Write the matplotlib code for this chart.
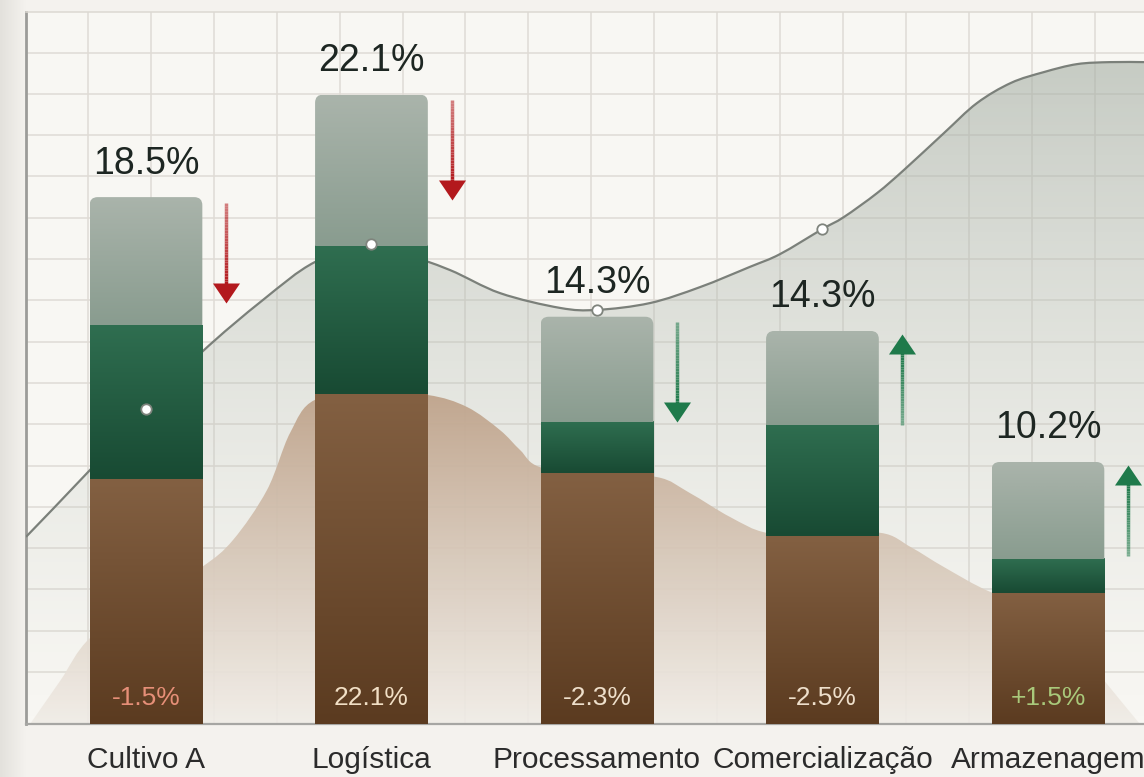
import numpy as np
import matplotlib
matplotlib.use('Agg')
import matplotlib.pyplot as plt
from matplotlib.patches import PathPatch, FancyBboxPatch
from matplotlib.path import Path
from matplotlib.collections import LineCollection
from matplotlib.colors import to_rgb

plt.rcParams['font.family'] = ['Liberation Sans', 'DejaVu Sans']

# --- data ---
categories = ["Cultivo A", "Logística", "Processamento", "Comercialização", "Armazenagem"]
base_vals = [8.6, 11.6, 8.8, 6.6, 4.6]      # brown segment
mid_vals = [5.4, 5.2, 1.8, 3.9, 1.2]        # dark green segment
top_vals = [4.5, 5.3, 3.7, 3.3, 3.4]        # grey-green segment
total_labels = ["18.5%", "22.1%", "14.3%", "14.3%", "10.2%"]
change_labels = ["-1.5%", "22.1%", "-2.3%", "-2.5%", "+1.5%"]
change_colors = ["#e68f78", "#f1dfc5", "#eedfcb", "#eedfcb", "#a9c97b"]
arrow_dirs = [-1, -1, -1, 1, 1]
arrow_colors = ["#b3191d", "#b3191d", "#1f7a4b", "#1f7a4b", "#1f7a4b"]

# grey trend line
line_x = [-0.532, -0.248, 0.0, 0.248, 0.519, 0.749, 0.998, 1.126, 1.348, 1.570,
          1.836, 2.0, 2.235, 2.457, 2.678, 2.812, 3.0, 3.095, 3.242, 3.361,
          3.539, 3.685, 3.836, 3.982, 4.129, 4.275, 4.426]
line_y = [6.57, 8.92, 11.06, 13.06, 14.89, 16.22, 16.85, 16.57, 15.94, 15.13,
          14.61, 14.54, 14.78, 15.34, 16.05, 16.50, 17.38, 17.80, 18.64, 19.45,
          20.75, 21.80, 22.51, 22.89, 23.17, 23.24, 23.24]
marker_x = [0, 1, 2, 3]
marker_y = [11.06, 16.85, 14.54, 17.38]

# beige background area
area_x = [-0.514, -0.381, -0.248, 0.0, 0.248, 0.386, 0.537, 0.639, 0.749,
          1.0, 1.251, 1.424, 1.570, 1.659, 1.747, 2.0, 2.266, 2.412, 2.590,
          2.754, 3.0, 3.259, 3.392, 3.539, 3.747, 4.0, 4.248, 4.408]
area_y = [0.0, 1.51, 3.02, 4.3, 5.51, 6.46, 8.22, 10.22, 11.38,
          11.62, 11.55, 11.13, 10.32, 9.62, 9.02, 8.71, 8.67, 8.11, 7.27,
          6.71, 6.64, 6.71, 6.21, 5.51, 4.63, 4.0, 1.54, 0.0]

XMIN, XMAX, YMAX = -0.532, 4.426, 25.0
BAR_W = 0.5


def vgrad(c_top, c_bot, n=100, a_top=1.0, a_bot=1.0):
    t = np.linspace(0, 1, n)[:, None]
    lo = np.array(to_rgb(c_bot) + (a_bot,))
    hi = np.array(to_rgb(c_top) + (a_top,))
    return (lo + (hi - lo) * t)[:, None, :]


def smooth_path(xs, ys, closing=None):
    # catmull-rom through the read points, drawn as cubic bezier pieces
    p = np.column_stack([xs, ys])
    ext = np.vstack([p[0], p, p[-1]])
    verts, codes = [tuple(p[0])], [Path.MOVETO]
    for k in range(len(p) - 1):
        p0, p1, p2, p3 = ext[k], ext[k + 1], ext[k + 2], ext[k + 3]
        verts += [tuple(p1 + (p2 - p0) / 6), tuple(p2 - (p3 - p1) / 6), tuple(p2)]
        codes += [Path.CURVE4] * 3
    if closing:
        for c in closing:
            verts.append(c)
            codes.append(Path.LINETO)
        verts.append(verts[0])
        codes.append(Path.CLOSEPOLY)
    return Path(verts, codes)


fig = plt.figure(figsize=(11.44, 7.77), dpi=100, facecolor="#f4f2ee")

# soft shadow at the left edge
sh = fig.add_axes([0, 0, 0.022, 1])
g = np.linspace(0, 1, 50)[None, :, None]
c0, c1 = np.array(to_rgb("#e3e1dc")), np.array(to_rgb("#f4f2ee"))
sh.imshow(c0 + (c1 - c0) * g, aspect='auto', extent=[0, 1, 0, 1])
sh.axis('off')

ax = fig.add_axes([26 / 1144, 53 / 777, 1118 / 1144, 712 / 777])
ax.set_facecolor("#f8f7f3")

# grid
ax.set_xticks(np.arange(-0.257, XMAX, 0.279), minor=True)
ax.set_yticks(np.arange(1.826, YMAX + 0.1, 1.450), minor=True)
ax.set_yticks([])
ax.grid(True, which='minor', color="#dfdbd5", lw=1.1, zorder=0)
ax.set_axisbelow(True)

# translucent fill under the trend line
fill_clip = PathPatch(smooth_path(line_x, line_y, [(XMAX, 0), (XMIN, 0)]),
                      fc='none', ec='none')
ax.add_patch(fill_clip)
im = ax.imshow(vgrad("#a6afa5", "#c9cec6", a_top=0.6, a_bot=0.0),
               extent=[XMIN, XMAX, 0, max(line_y)], origin='lower',
               aspect='auto', zorder=1, interpolation='bicubic')
im.set_clip_path(fill_clip)

# beige mountain area
area_clip = PathPatch(smooth_path(area_x, area_y, []), fc='none', ec='none')
ax.add_patch(area_clip)
im = ax.imshow(vgrad("#bfa48c", "#f0ece6", a_top=0.95, a_bot=0.9),
               extent=[XMIN, XMAX, 0, max(area_y)], origin='lower',
               aspect='auto', zorder=2, interpolation='bicubic')
im.set_clip_path(area_clip)

# trend line
ax.add_patch(PathPatch(smooth_path(line_x, line_y), fc='none', ec="#7b807a",
                       lw=1.6, zorder=3))

# stacked bars with gradients
for i in range(len(categories)):
    x0, x1 = i - BAR_W / 2, i + BAR_W / 2
    b1 = base_vals[i]
    m1 = b1 + mid_vals[i]
    t1 = m1 + top_vals[i]
    ax.imshow(vgrad("#836042", "#5b3b20"), extent=[x0, x1, 0, b1], origin='lower',
              aspect='auto', zorder=4, interpolation='bicubic')
    ax.imshow(vgrad("#2f6e50", "#184a33"), extent=[x0, x1, b1, m1], origin='lower',
              aspect='auto', zorder=4, interpolation='bicubic')
    clip = FancyBboxPatch((x0, m1 - 1), BAR_W, t1 - m1 + 1,
                          boxstyle="round,pad=0,rounding_size=0.036",
                          mutation_aspect=7.9, fc='none', ec='none')
    ax.add_patch(clip)
    img = ax.imshow(vgrad("#aab4ab", "#899c8f"), extent=[x0, x1, m1, t1], origin='lower',
                    aspect='auto', zorder=4, interpolation='bicubic')
    img.set_clip_path(clip)

    ax.annotate(total_labels[i], (i, t1), xytext=(0, 17), textcoords='offset points',
                ha='center', va='baseline', fontsize=27, color="#1d2622", zorder=7)
    ax.annotate(change_labels[i], (i, 0), xytext=(0, 13.5), textcoords='offset points',
                ha='center', va='baseline', fontsize=19, color=change_colors[i], zorder=7)

    # change arrow beside the bar
    ax_x = i + 0.355
    d = arrow_dirs[i]
    if d < 0:
        tail, tip = t1 - 0.2, t1 - 3.7
    else:
        tip, tail = t1 - 0.1, t1 - 3.3
    head = 0.70
    base = tip - d * head
    ys = np.linspace(tail, base + d * 0.05, 31)
    segs = [[(ax_x, ys[k]), (ax_x, ys[k + 1])] for k in range(30)]
    rgb = to_rgb(arrow_colors[i])
    cols = [rgb + (a,) for a in np.linspace(0.55, 1.0, 30)]
    ax.add_collection(LineCollection(segs, colors=cols, lw=2.5, zorder=5,
                                     capstyle='butt'))
    tri = [(-1, 0), (1, 0), (0, 1.48 * d)]
    ax.plot([ax_x], [base], marker=tri, ms=28.8, color=arrow_colors[i],
            mec='none', zorder=5)

# markers on the trend line
ax.plot(marker_x, marker_y, 'o', ms=7.5, mfc='white', mec="#7f847d", mew=1.3, zorder=6)

ax.set_xlim(XMIN, XMAX)
ax.set_ylim(0, YMAX)
ax.set_xticks(range(len(categories)), categories)
ax.tick_params(axis='x', which='major', length=0, pad=16, labelsize=21.5,
               labelcolor="#2b2b2b")
ax.tick_params(which='minor', length=0)

ax.spines['right'].set_visible(False)
ax.spines['top'].set_color("#dcd8d2")
ax.spines['top'].set_linewidth(1.1)
ax.spines['left'].set_color("#9c9c99")
ax.spines['left'].set_linewidth(2.0)
ax.spines['bottom'].set_color("#a6a6a3")
ax.spines['bottom'].set_linewidth(1.6)

fig.savefig("out.png", dpi=100, facecolor=fig.get_facecolor())
